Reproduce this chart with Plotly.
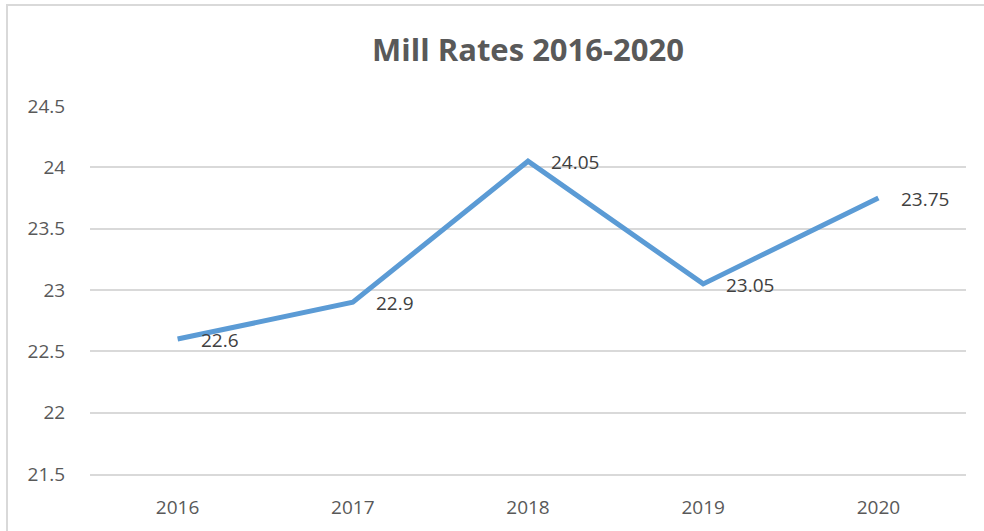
import plotly.graph_objects as go

years = ["2016", "2017", "2018", "2019", "2020"]
rates = [22.6, 22.9, 24.05, 23.05, 23.75]
labels = ["22.6", "22.9", "24.05", "23.05", "23.75"]
y_ticks = [21.5, 22, 22.5, 23, 23.5, 24, 24.5]
y_tick_text = ["21.5", "22", "22.5", "23", "23.5", "24", "24.5"]

font_family = "Open Sans, Noto Sans, Liberation Sans, sans-serif"
grey = "#595959"
fs = 19

fig = go.Figure()
fig.add_trace(go.Scatter(
    x=list(range(len(years))), y=rates, mode="lines",
    line=dict(color="#5B9BD5", width=5),
    hoverinfo="skip", showlegend=False,
))

for i, (y, t) in enumerate(zip(rates, labels)):
    fig.add_annotation(x=i, y=y, xref="x", yref="y", text=t, showarrow=False,
                       xanchor="left", yanchor="middle", xshift=21, yshift=-1,
                       font=dict(family=font_family, size=fs, color="#404040"))

L, R, T, B = 90, 18, 106, 57
W, H = 984, 531
pw, ph = W - L - R, H - T - B
fig.add_shape(type="rect", xref="paper", yref="paper",
              x0=(7 - L) / pw, x1=(W + 20 - L) / pw,
              y0=-(B + 20) / ph, y1=(H - B - 5) / ph,
              line=dict(color="#D9D9D9", width=2), fillcolor="rgba(0,0,0,0)",
              layer="below")

fig.update_layout(
    width=W, height=H,
    margin=dict(l=L, r=R, t=T, b=B, autoexpand=False),
    paper_bgcolor="white", plot_bgcolor="white",
    title=dict(text="<b>Mill Rates 2016-2020</b>", x=0.5, xref="paper",
               xanchor="center", y=(H - 50) / H, yanchor="middle",
               font=dict(family=font_family, size=31, color=grey)),
    font=dict(family=font_family, size=fs, color=grey),
    xaxis=dict(range=[-0.5, 4.5], tickvals=list(range(len(years))),
               ticktext=years, showgrid=False, automargin=False,
               showline=True, linecolor="#D9D9D9", linewidth=1.5,
               ticks="outside", ticklen=15, tickcolor="rgba(0,0,0,0)",
               tickfont=dict(size=fs, color=grey), zeroline=False),
    yaxis=dict(range=[21.5, 24.5], tickvals=y_ticks, ticktext=y_tick_text,
               showgrid=True, gridcolor="#D9D9D9", gridwidth=1.5,
               automargin=False,
               zeroline=False, showline=False, ticks="outside",
               ticklen=20, tickcolor="rgba(0,0,0,0)",
               tickfont=dict(size=fs, color=grey)),
)

fig.write_html("out.html")
